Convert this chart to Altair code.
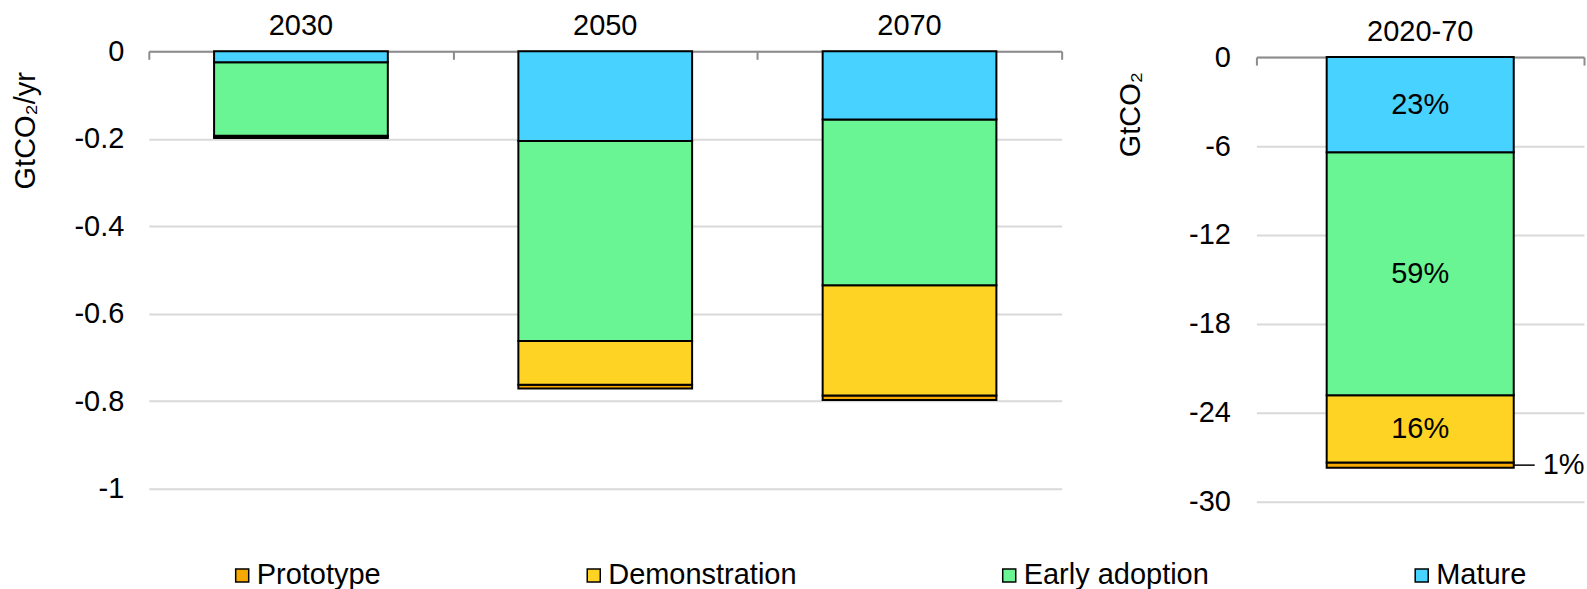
import altair as alt
import pandas as pd

years = ["2030", "2050", "2070"]
stages = ["Prototype", "Demonstration", "Early adoption", "Mature"]
colors = ["#F5A900", "#FFD324", "#69F593", "#48D2FF"]
prototype = [-0.003, -0.009, -0.010]
demonstration = [-0.002, -0.100, -0.252]
early_adoption = [-0.168, -0.457, -0.379]
mature = [-0.025, -0.205, -0.156]

period = ["2020-70"]
cum_prototype = [-0.36]
cum_demonstration = [-4.54]
cum_early_adoption = [-16.39]
cum_mature = [-6.42]
cum_shares = ["1%", "16%", "59%", "23%"]  # Prototype, Demonstration, Early adoption, Mature

y_left_ticks = [0, -0.2, -0.4, -0.6, -0.8, -1]
y_right_ticks = [0, -6, -12, -18, -24, -30]

stack_order = {"Mature": 0, "Early adoption": 1, "Demonstration": 2, "Prototype": 3}

# ---------- tables ----------
left_rows = []
series = {"Prototype": prototype, "Demonstration": demonstration,
          "Early adoption": early_adoption, "Mature": mature}
for i, y in enumerate(years):
    for s in stages:
        left_rows.append({"year": y, "stage": s, "value": series[s][i], "order": stack_order[s]})
left_df = pd.DataFrame(left_rows)

cum_series = {"Prototype": cum_prototype, "Demonstration": cum_demonstration,
              "Early adoption": cum_early_adoption, "Mature": cum_mature}
right_rows = []
for s in stages:
    right_rows.append({"period": period[0], "stage": s, "value": cum_series[s][0], "order": stack_order[s]})
right_df = pd.DataFrame(right_rows)

# label positions: middle of each stacked segment
lab_rows = []
acc = 0.0
for s in sorted(stages, key=lambda k: stack_order[k]):
    v = cum_series[s][0]
    mid = acc + v / 2
    acc += v
    lab_rows.append({"period": period[0], "stage": s, "value": mid,
                     "label": cum_shares[stages.index(s)]})
lab_df = pd.DataFrame(lab_rows)
inside_df = lab_df[lab_df["stage"] != "Prototype"]
outside_df = lab_df[lab_df["stage"] == "Prototype"]

FONT_SIZE = 29
GRID = "#D9D9D9"
DOMAIN = "#8C8C8C"
BAR_FRAC = 0.571
BAR_END = 0.5 + BAR_FRAC / 2

color_scale = alt.Scale(domain=stages, range=colors)
legend = alt.Legend(orient="none", legendX=79, legendY=510, direction="horizontal",
                    columns=4, columnPadding=198, symbolType="square", symbolSize=170,
                    symbolStrokeColor="black", symbolStrokeWidth=1.5, labelFontSize=29,
                    labelOffset=0, title=None, labelLimit=0, padding=0)

# ---------- left panel ----------
LH = 438
LW = 914
xscale_l = alt.Scale(paddingInner=0, paddingOuter=0)
yaxis_l = alt.Axis(values=y_left_ticks, format="~g", domain=False, ticks=False, labelPadding=25,
                   labelFontSize=FONT_SIZE, gridColor=GRID, gridWidth=2,
                   title="GtCO\u2082/yr", titleFontSize=29, titleFontWeight="normal",
                   titleX=-123, titleY=79, titleAngle=-90, titleAlign="center",
                   titleBaseline="middle",
                   labelExpr="replace(datum.label, '\u2212', '-')")
bars_l = alt.Chart(left_df).mark_bar(stroke="black", strokeWidth=2,
                                     width=alt.RelativeBandSize(BAR_FRAC)).encode(
    x=alt.X("year:N", sort=years, scale=xscale_l,
            axis=alt.Axis(orient="top", domain=False, ticks=False, labelPadding=11,
                          labelAngle=0, title=None, labelFontSize=FONT_SIZE, grid=False)),
    y=alt.Y("value:Q", stack="zero", scale=alt.Scale(domain=[-1, 0], nice=False, zero=False),
            axis=yaxis_l),
    color=alt.Color("stage:N", scale=color_scale, legend=legend),
    order=alt.Order("order:Q"),
)
frame_l = alt.Chart(left_df).mark_point(opacity=0).encode(
    x=alt.X("year:N", sort=years, scale=xscale_l,
            axis=alt.Axis(orient="bottom", offset=-LH, labels=False, domain=True, ticks=True,
                          tickBand="extent", tickSize=8, domainColor=DOMAIN, domainWidth=2,
                          tickColor=DOMAIN, tickWidth=2, title=None, grid=False)),
)
left = alt.layer(frame_l, bars_l).resolve_axis(x="independent").properties(width=LW, height=LH)

# ---------- right panel ----------
RH = 451
RW = 328
rtop = 0.39
zero_off = RH * rtop / (30 + rtop)
xscale_r = alt.Scale(paddingInner=0, paddingOuter=0)
yscale_r = alt.Scale(domain=[-30, rtop], nice=False, zero=False)
yaxis_r = alt.Axis(values=y_right_ticks, format="~g", domain=False, ticks=False, labelPadding=26,
                   labelFontSize=FONT_SIZE, gridColor=GRID, gridWidth=2,
                   title="GtCO\u2082", titleFontSize=29, titleFontWeight="normal",
                   titleX=-126, titleY=63, titleAngle=-90, titleAlign="center",
                   titleBaseline="middle",
                   labelExpr="replace(datum.label, '\u2212', '-')")
bars_r = alt.Chart(right_df).mark_bar(stroke="black", strokeWidth=2,
                                      width=alt.RelativeBandSize(BAR_FRAC)).encode(
    x=alt.X("period:N", scale=xscale_r,
            axis=alt.Axis(orient="top", domain=False, ticks=False, labelPadding=11 - zero_off,
                          labelAngle=0, title=None, labelFontSize=FONT_SIZE, grid=False)),
    y=alt.Y("value:Q", stack="zero", scale=yscale_r, axis=yaxis_r),
    color=alt.Color("stage:N", scale=color_scale, legend=legend),
    order=alt.Order("order:Q"),
)
frame_r = alt.Chart(right_df).mark_point(opacity=0).encode(
    x=alt.X("period:N", scale=xscale_r,
            axis=alt.Axis(orient="bottom", offset=-(RH - zero_off), labels=False, domain=True,
                          ticks=True, tickBand="extent", tickSize=8, domainColor=DOMAIN,
                          domainWidth=2, tickColor=DOMAIN, tickWidth=2, title=None, grid=False)),
)
text_in = alt.Chart(inside_df).mark_text(fontSize=FONT_SIZE, color="black").encode(
    x=alt.X("period:N", axis=None),
    y=alt.Y("value:Q", scale=yscale_r, axis=yaxis_r),
    text="label:N",
)
leader = alt.Chart(outside_df).mark_rule(color="black", strokeWidth=1.5, x2Offset=21).encode(
    x=alt.X("period:N", bandPosition=BAR_END, axis=None),
    x2=alt.X2("period", bandPosition=BAR_END),
    y=alt.Y("value:Q", scale=yscale_r, axis=yaxis_r),
)
text_out = alt.Chart(outside_df).mark_text(fontSize=FONT_SIZE, color="black", align="left", dx=29).encode(
    x=alt.X("period:N", bandPosition=BAR_END, axis=None),
    y=alt.Y("value:Q", scale=yscale_r, axis=yaxis_r),
    text="label:N",
)
right = alt.layer(frame_r, bars_r, text_in, leader, text_out).resolve_axis(
    x="independent").properties(width=RW, height=RH)

chart = alt.hconcat(left, right, spacing=195, bounds="flush").properties(
    padding={"left": 12, "top": 11, "right": 2, "bottom": 2}
).configure(font="Liberation Sans").configure_view(stroke=None).configure_axis(
    labelColor="black", titleColor="black", labelFont="Liberation Sans", titleFont="Liberation Sans"
).configure_legend(labelColor="black", labelFont="Liberation Sans")

chart.save("out.html", embed_options={"renderer": "svg", "actions": False})
